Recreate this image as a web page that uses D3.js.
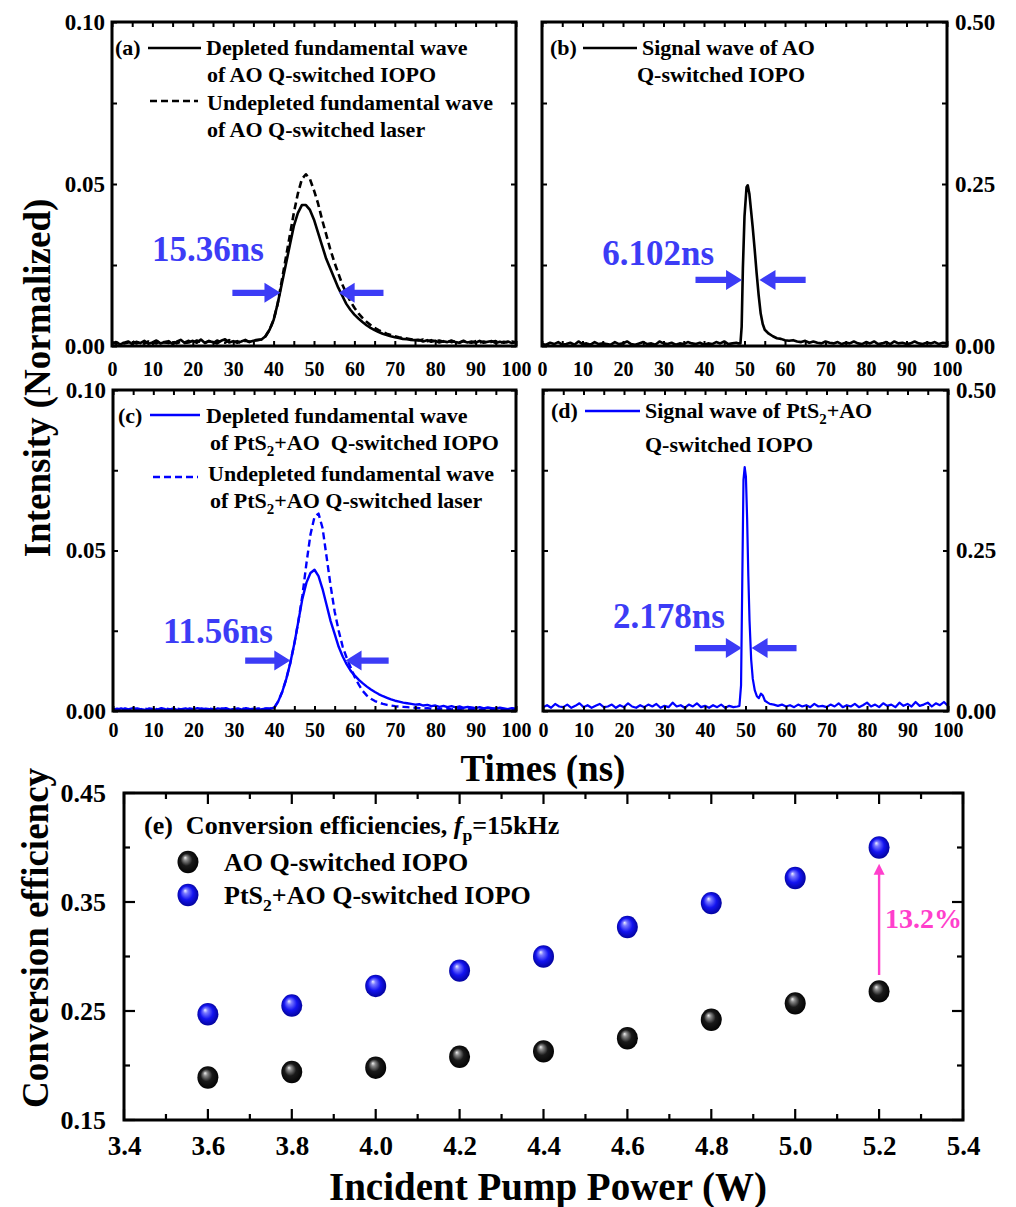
<!DOCTYPE html>
<html><head><meta charset="utf-8">
<script src="https://cdn.jsdelivr.net/npm/d3@7"></script>
<style>
body{margin:0;background:#fff}
text{font-family:"Liberation Serif","Times New Roman",serif;font-weight:bold;fill:#000}
</style>
</head><body>
<svg id="chart" width="1016" height="1207"></svg>
<script>
// ---------------- DATA ----------------
// Panel (a): AO Q-switched, [time ns, intensity]
const aDepleted = [[0,.0008],[1,.0012],[2,.0005],[3,.0010],[4,.0014],[5,.0006],[6,.0013],[7,.0009],[8,.0016],[9,.0007],[10,.0011],[11,.0017],[12,.0008],[13,.0012],[14,.0015],[15,.0006],[16,.0013],[17,.0019],[18,.0009],[19,.0011],[20,.0016],[21,.0010],[22,.0020],[23,.0009],[24,.0015],[25,.0012],[26,.0008],[27,.0016],[28,.0021],[29,.0011],[30,.0015],[31,.0010],[32,.0014],[33,.0019],[34,.0012],[35,.0016],[36,.0018],[37,.002],[38,.003],[39,.005],[40,.008],[41,.013],[42,.019],[43,.025],[44,.031],[45,.037],[46,.041],[47,.0435],[48,.0435],[49,.042],[50,.039],[51,.035],[52,.031],[53,.027],[54,.024],[55,.021],[56,.018],[57,.0155],[58,.013],[59,.0112],[60,.0097],[61,.0085],[62,.0074],[63,.0064],[64,.0056],[65,.0049],[66,.0043],[67,.0038],[68,.0034],[69,.0030],[70,.0027],[71,.0025],[72,.0022],[73,.0021],[74,.0019],[75,.0018],[76,.0019],[77,.0014],[78,.0018],[79,.0013],[80,.0016],[81,.0011],[82,.0015],[83,.0012],[84,.0017],[85,.0012],[86,.0010],[87,.0015],[88,.0011],[89,.0014],[90,.0010],[91,.0016],[92,.0010],[93,.0013],[94,.0015],[95,.0009],[96,.0013],[97,.0010],[98,.0014],[99,.0009],[100,.0012]];
const aUndepleted = [[0,.0010],[1,.0007],[2,.0013],[3,.0008],[4,.0011],[5,.0015],[6,.0008],[7,.0012],[8,.0007],[9,.0014],[10,.0010],[11,.0008],[12,.0015],[13,.0011],[14,.0009],[15,.0014],[16,.0008],[17,.0013],[18,.0011],[19,.0016],[20,.0010],[21,.0017],[22,.0012],[23,.0010],[24,.0016],[25,.0009],[26,.0017],[27,.0012],[28,.0010],[29,.0018],[30,.0012],[31,.0015],[32,.0010],[33,.0016],[34,.0013],[35,.0017],[36,.0019],[37,.002],[38,.003],[39,.005],[40,.008],[41,.013],[42,.020],[43,.027],[44,.034],[45,.041],[46,.047],[47,.0515],[48,.053],[49,.0515],[50,.048],[51,.044],[52,.039],[53,.0345],[54,.030],[55,.026],[56,.0225],[57,.019],[58,.0163],[59,.0138],[60,.0118],[61,.0101],[62,.0087],[63,.0075],[64,.0065],[65,.0056],[66,.0049],[67,.0043],[68,.0038],[69,.0034],[70,.0030],[71,.0027],[72,.0025],[73,.0023],[74,.0021],[75,.0020],[76,.0017],[77,.0020],[78,.0015],[79,.0018],[80,.0014],[81,.0017],[82,.0013],[83,.0016],[84,.0012],[85,.0015],[86,.0011],[87,.0016],[88,.0012],[89,.0010],[90,.0015],[91,.0011],[92,.0014],[93,.0010],[94,.0013],[95,.0015],[96,.0010],[97,.0013],[98,.0011],[99,.0014],[100,.0011]];
// Panel (b): signal wave, AO
const bSignal = [[0,.003],[1,.002],[2,.005],[3,.003],[4,.006],[5,.002],[6,.003],[7,.005],[8,.002],[9,.007],[10,.003],[11,.004],[12,.002],[13,.006],[14,.003],[15,.004],[16,.003],[17,.002],[18,.006],[19,.003],[20,.004],[21,.007],[22,.003],[23,.002],[24,.004],[25,.006],[26,.003],[27,.004],[28,.002],[29,.007],[30,.004],[31,.003],[32,.005],[33,.002],[34,.004],[35,.003],[36,.006],[37,.004],[38,.003],[39,.005],[40,.002],[41,.004],[42,.003],[43,.006],[44,.004],[45,.007],[46,.003],[47,.004],[48,.005],[48.5,.004],[49,.004],[49.3,.03],[49.6,.12],[50,.20],[50.5,.245],[50.8,.248],[51.2,.235],[51.6,.21],[52,.185],[52.5,.15],[53,.112],[53.5,.078],[54,.05],[54.5,.034],[55,.025],[56,.019],[57,.015],[58,.012],[59,.011],[60,.009],[61,.008],[62,.009],[63,.007],[64,.006],[65,.008],[66,.005],[67,.007],[68,.005],[69,.004],[70,.007],[71,.005],[72,.004],[73,.006],[74,.003],[75,.005],[76,.004],[77,.007],[78,.004],[79,.003],[80,.006],[81,.004],[82,.007],[83,.003],[84,.004],[85,.006],[86,.003],[87,.007],[88,.004],[89,.005],[90,.003],[91,.004],[92,.007],[93,.004],[94,.003],[95,.005],[96,.004],[97,.006],[98,.003],[99,.005],[100,.004]];
// Panel (c): PtS2 + AO Q-switched
const cDepleted = [[0,.0006],[1,.0003],[2,.0008],[3,.0004],[4,.0006],[5,.0009],[6,.0004],[7,.0006],[8,.0003],[9,.0008],[10,.0006],[11,.0004],[12,.0009],[13,.0006],[14,.0004],[15,.0008],[16,.0003],[17,.0006],[18,.0008],[19,.0004],[20,.0006],[21,.0009],[22,.0004],[23,.0007],[24,.0006],[25,.0003],[26,.0008],[27,.0006],[28,.0009],[29,.0004],[30,.0006],[31,.0008],[32,.0004],[33,.0009],[34,.0006],[35,.0007],[36,.0004],[37,.0006],[38,.0008],[39,.0007],[40,.001],[41,.003],[42,.006],[43,.010],[44,.015],[45,.021],[46,.028],[47,.035],[48,.040],[49,.043],[50,.044],[51,.042],[52,.038],[53,.033],[54,.028],[55,.024],[56,.020],[57,.017],[58,.0145],[59,.0125],[60,.011],[61,.0097],[62,.0086],[63,.0076],[64,.0067],[65,.0059],[66,.0052],[67,.0046],[68,.0041],[69,.0036],[70,.0032],[71,.0029],[72,.0026],[73,.0024],[74,.0022],[75,.0020],[76,.0021],[77,.0017],[78,.0019],[79,.0015],[80,.0017],[81,.0013],[82,.0016],[83,.0012],[84,.0015],[85,.0011],[86,.0014],[87,.0010],[88,.0013],[89,.0011],[90,.0009],[91,.0012],[92,.0008],[93,.0011],[94,.0009],[95,.0007],[96,.0010],[97,.0008],[98,.0006],[99,.0009],[100,.0007]];
const cUndepleted = [[0,.0004],[1,.0007],[2,.0005],[3,.0008],[4,.0004],[5,.0006],[6,.0008],[7,.0005],[8,.0007],[9,.0004],[10,.0008],[11,.0006],[12,.0005],[13,.0008],[14,.0006],[15,.0004],[16,.0007],[17,.0005],[18,.0004],[19,.0008],[20,.0006],[21,.0005],[22,.0008],[23,.0005],[24,.0007],[25,.0006],[26,.0004],[27,.0008],[28,.0006],[29,.0007],[30,.0004],[31,.0006],[32,.0008],[33,.0005],[34,.0007],[35,.0005],[36,.0008],[37,.0006],[38,.0007],[39,.0008],[40,.001],[41,.003],[42,.006],[43,.010],[44,.015],[45,.021],[46,.028],[47,.036],[48,.046],[49,.055],[50,.0605],[51,.0615],[52,.057],[53,.048],[54,.039],[55,.031],[56,.025],[57,.020],[58,.0165],[59,.0135],[60,.0105],[61,.0082],[62,.0062],[63,.0048],[64,.0038],[65,.0031],[66,.0026],[67,.0022],[68,.0019],[69,.0017],[70,.0015],[71,.0014],[72,.0013],[73,.0012],[74,.0011],[75,.0010],[76,.0009],[77,.0008],[78,.0009],[79,.0007],[80,.0008],[81,.0006],[82,.0008],[83,.0007],[84,.0005],[85,.0007],[86,.0006],[87,.0008],[88,.0005],[89,.0007],[90,.0006],[91,.0004],[92,.0007],[93,.0005],[94,.0006],[95,.0008],[96,.0005],[97,.0006],[98,.0004],[99,.0007],[100,.0005]];
// Panel (d): signal wave, PtS2 + AO
const dSignal = [[0,.006],[1,.009],[2,.005],[3,.011],[4,.007],[5,.006],[6,.010],[7,.005],[8,.008],[9,.012],[10,.006],[11,.009],[12,.005],[13,.008],[14,.011],[15,.006],[16,.007],[17,.010],[18,.005],[19,.009],[20,.006],[21,.012],[22,.007],[23,.005],[24,.009],[25,.006],[26,.010],[27,.007],[28,.011],[29,.005],[30,.008],[31,.006],[32,.013],[33,.007],[34,.009],[35,.005],[36,.010],[37,.007],[38,.012],[39,.006],[40,.008],[41,.005],[42,.009],[43,.006],[44,.010],[45,.005],[46,.008],[47,.006],[48,.007],[48.5,.008],[48.9,.04],[49.2,.2],[49.5,.36],[49.8,.38],[50.1,.365],[50.4,.30],[50.7,.21],[51,.14],[51.4,.08],[51.8,.05],[52.3,.032],[52.8,.023],[53.3,.02],[53.8,.027],[54.3,.024],[54.8,.016],[55.5,.013],[56,.011],[57,.010],[58,.008],[59,.010],[60,.007],[61,.009],[62,.006],[63,.010],[64,.007],[65,.009],[66,.006],[67,.011],[68,.007],[69,.008],[70,.006],[71,.010],[72,.007],[73,.012],[74,.006],[75,.009],[76,.007],[77,.011],[78,.006],[79,.009],[80,.013],[81,.007],[82,.010],[83,.006],[84,.012],[85,.008],[86,.010],[87,.006],[88,.013],[89,.008],[90,.011],[91,.007],[92,.014],[93,.008],[94,.010],[95,.013],[96,.007],[97,.012],[98,.009],[99,.014],[100,.008]];

// Panel (e): conversion efficiency
const pumpPower = [3.6, 3.8, 4.0, 4.2, 4.4, 4.6, 4.8, 5.0, 5.2];
const effAO     = [0.189, 0.194, 0.198, 0.208, 0.213, 0.225, 0.242, 0.257, 0.268];
const effPtS2AO = [0.247, 0.255, 0.273, 0.287, 0.300, 0.327, 0.349, 0.372, 0.400];

// tick labels
const timeTicks = [0,10,20,30,40,50,60,70,80,90,100];
const fundTickLabels = [0.00, 0.05, 0.10];
const sigTickLabels = [0.00, 0.25, 0.50];
const powerTicks = [3.4,3.6,3.8,4.0,4.2,4.4,4.6,4.8,5.0,5.2,5.4];
const effTicks = [0.15,0.25,0.35,0.45];

// annotations (data space): FWHM labels and arrow positions
const fwhmLabels = ["15.36ns", "6.102ns", "11.56ns", "2.178ns"];
const fwhmLabelPos = [[9.9,0.0262],[14.9,0.125],[12.4,0.0212],[17.3,0.129]];
const fwhmArrowY = [0.0164, 0.102, 0.0157, 0.098];
const fwhmArrowLeft = [[29.8,41.7],[37.9,49.4],[32.8,44.0],[37.5,49.1]];   // [tail, tip]
const fwhmArrowRight = [[67.2,56.1],[65.1,53.7],[68.4,57.7],[62.6,51.5]];  // [tail, tip]
const improvement = {label: "13.2%", x: 5.2, from: 0.283, to: 0.385};

// ---------------- DRAW ----------------
const svg = d3.select("#chart");
const BLUE = "#0000ff", ANNO = "#3c3cf6", MAG = "#ff3fcc";
const defs = svg.append("defs");

function gradient(id, stops){
  const g = defs.append("radialGradient").attr("id", id)
    .attr("cx","50%").attr("cy","50%").attr("r","55%").attr("fx","36%").attr("fy","30%");
  stops.forEach(s => g.append("stop").attr("offset", s[0]).attr("stop-color", s[1]));
}
gradient("ballBlack", [["0%","#f2f2f2"],["18%","#8a8a8a"],["50%","#1a1a1a"],["100%","#000"]]);
gradient("ballBlue", [["0%","#eef0ff"],["20%","#7a7aff"],["55%","#1414f0"],["100%","#000090"]]);

function styleAxis(g, fs){
  g.select(".domain").remove();
  g.selectAll(".tick line").attr("stroke","#000").attr("stroke-width",2);
  g.selectAll(".tick text").attr("fill","#000")
    .style("font-family",'"Liberation Serif","Times New Roman",serif')
    .style("font-weight","bold").style("font-size", fs+"px");
}

function arrow(g, xt, xp, y, color){
  const d = Math.sign(xp - xt), hl = 16, hh = 10, sh = 3.2;
  const pts = [[xt,y-sh],[xp-d*hl,y-sh],[xp-d*hl,y-hh],[xp,y],[xp-d*hl,y+hh],[xp-d*hl,y+sh],[xt,y+sh]];
  g.append("path").attr("d", "M" + pts.map(p=>p.join(",")).join("L") + "Z").attr("fill", color);
}

function richText(g, x, y, fs, parts, color){
  const t = g.append("text").attr("x", x).attr("y", y).style("font-size", fs+"px")
    .style("white-space","pre").attr("fill", color || "#000");
  parts.forEach(p => {
    const s = t.append("tspan").text(p.t);
    if (p.sub){ s.attr("dy", fs*0.28).style("font-size", (fs*0.68)+"px"); }
    if (p.after){ s.attr("dy", -fs*0.28); }
    if (p.italic) s.style("font-style","italic");
  });
  return t;
}

const panels = [
  {name:"a", x0:112, x1:516, y0:22, y1:346, ymax:0.1, yMinor:[0,0.025,0.05,0.075,0.1], labels:fundTickLabels, side:"left", xPad:16,
   series:[{data:aUndepleted, color:"#000", dash:"7,4"},{data:aDepleted, color:"#000"}], sw:2.6},
  {name:"b", x0:542, x1:947, y0:22, y1:346, ymax:0.5, yMinor:[0,0.125,0.25,0.375,0.5], labels:sigTickLabels, side:"right", xPad:16,
   series:[{data:bSignal, color:"#000"}], sw:2.6},
  {name:"c", x0:113, x1:516, y0:390, y1:711, ymax:0.1, yMinor:[0,0.025,0.05,0.075,0.1], labels:fundTickLabels, side:"left", xPad:12,
   series:[{data:cUndepleted, color:BLUE, dash:"7,4"},{data:cDepleted, color:BLUE}], sw:2.4},
  {name:"d", x0:543, x1:948, y0:390, y1:711, ymax:0.5, yMinor:[0,0.125,0.25,0.375,0.5], labels:sigTickLabels, side:"right", xPad:12,
   series:[{data:dSignal, color:BLUE}], sw:2.2}
];

panels.forEach((p, i) => {
  const x = d3.scaleLinear().domain([0,100]).range([p.x0, p.x1]);
  const y = d3.scaleLinear().domain([0,p.ymax]).range([p.y1, p.y0]);
  const g = svg.append("g");
  defs.append("clipPath").attr("id","clip"+p.name).append("rect")
    .attr("x",p.x0).attr("y",p.y0).attr("width",p.x1-p.x0).attr("height",p.y1-p.y0);

  const line = d3.line().x(d => x(d[0])).y(d => y(d[1]));
  p.series.forEach(s => {
    g.append("path").attr("d", line(s.data)).attr("fill","none").attr("stroke", s.color)
      .attr("stroke-width", p.sw).attr("stroke-linejoin","round")
      .attr("stroke-dasharray", s.dash || null).attr("clip-path","url(#clip"+p.name+")");
  });

  const xt = d3.range(0,101,5);
  const ax = g.append("g").attr("transform",`translate(0,${p.y1})`)
    .call(d3.axisBottom(x).tickValues(xt).tickSize(-5).tickPadding(p.xPad)
      .tickFormat(d => timeTicks.includes(d) ? d : ""));
  styleAxis(ax, 20);
  const at = g.append("g").attr("transform",`translate(0,${p.y0})`)
    .call(d3.axisTop(x).tickValues(xt).tickSize(-5).tickFormat(""));
  styleAxis(at, 20);
  const fmt = d => p.labels.some(v => Math.abs(v-d) < 1e-9) ? d3.format(".2f")(d) : "";
  const al = g.append("g").attr("transform",`translate(${p.x0},0)`)
    .call(d3.axisLeft(y).tickValues(p.yMinor).tickSize(-5).tickPadding(7)
      .tickFormat(p.side === "left" ? fmt : ""));
  styleAxis(al, 23);
  const ar = g.append("g").attr("transform",`translate(${p.x1},0)`)
    .call(d3.axisRight(y).tickValues(p.yMinor).tickSize(-5).tickPadding(8)
      .tickFormat(p.side === "right" ? fmt : ""));
  styleAxis(ar, 23);

  g.append("rect").attr("x",p.x0).attr("y",p.y0).attr("width",p.x1-p.x0).attr("height",p.y1-p.y0)
    .attr("fill","none").attr("stroke","#000").attr("stroke-width",3);

  // FWHM annotation
  const ay = y(fwhmArrowY[i]);
  arrow(g, x(fwhmArrowLeft[i][0]), x(fwhmArrowLeft[i][1]), ay, ANNO);
  arrow(g, x(fwhmArrowRight[i][0]), x(fwhmArrowRight[i][1]), ay, ANNO);
  g.append("text").attr("x", x(fwhmLabelPos[i][0])).attr("y", y(fwhmLabelPos[i][1]))
    .attr("fill", ANNO).style("fill",ANNO).style("font-size","35px").text(fwhmLabels[i]);
});

// Legends of panels
function legLine(x1, x2, yy, color, dash){
  svg.append("line").attr("x1",x1).attr("x2",x2).attr("y1",yy).attr("y2",yy)
    .attr("stroke",color).attr("stroke-width",2.6).attr("stroke-dasharray",dash||null);
}
const LF = 22;
// (a)
richText(svg, 115, 55, LF, [{t:"(a)"}]);
legLine(148, 201, 48, "#000");
richText(svg, 206, 55, LF, [{t:"Depleted fundamental wave"}]);
richText(svg, 207, 82, LF, [{t:"of AO Q-switched IOPO"}]);
legLine(150, 198, 101, "#000", "7,4");
richText(svg, 207, 110, LF, [{t:"Undepleted fundamental wave"}]);
richText(svg, 207, 137, LF, [{t:"of AO Q-switched laser"}]);
// (b)
richText(svg, 550, 55, LF, [{t:"(b)"}]);
legLine(583, 637, 48, "#000");
richText(svg, 642, 55, LF, [{t:"Signal wave of AO"}]);
richText(svg, 637, 82, LF, [{t:"Q-switched IOPO"}]);
// (c)
richText(svg, 118, 423, LF, [{t:"(c)"}]);
legLine(150, 200, 415, BLUE);
richText(svg, 206, 423, LF, [{t:"Depleted fundamental wave"}]);
richText(svg, 210, 450, LF, [{t:"of PtS"},{t:"2",sub:true},{t:"+AO  Q-switched IOPO",after:true}]);
legLine(153, 198, 477, BLUE, "7,4");
richText(svg, 208, 481, LF, [{t:"Undepleted fundamental wave"}]);
richText(svg, 210, 508, LF, [{t:"of PtS"},{t:"2",sub:true},{t:"+AO Q-switched laser",after:true}]);
// (d)
richText(svg, 551, 418, LF, [{t:"(d)"}]);
legLine(585, 640, 411, BLUE);
richText(svg, 645, 418, LF, [{t:"Signal wave of PtS"},{t:"2",sub:true},{t:"+AO",after:true}]);
richText(svg, 645, 452, LF, [{t:"Q-switched IOPO"}]);

// Shared axis titles
svg.append("text").attr("x", 543).attr("y", 781).attr("text-anchor","middle")
  .style("font-size","37px").text("Times (ns)");
svg.append("text").attr("transform","translate(50,378) rotate(-90)").attr("text-anchor","middle")
  .style("font-size","37px").text("Intensity (Normalized)");

// ---------------- Panel (e) ----------------
const E = {x0:124, x1:963, y0:793, y1:1120};
const ex = d3.scaleLinear().domain([3.4,5.4]).range([E.x0,E.x1]);
const ey = d3.scaleLinear().domain([0.15,0.45]).range([E.y1,E.y0]);
const ge = svg.append("g");

const isMajorX = d => powerTicks.some(v => Math.abs(v-d) < 1e-6);
const isMajorY = d => effTicks.some(v => Math.abs(v-d) < 1e-6);
const xAll = d3.range(34,55).map(v => v/10);
const yAll = d3.range(15,46,5).map(v => v/100);

xAll.forEach(v => {
  const L = isMajorX(v) ? 11 : 6;
  ge.append("line").attr("x1",ex(v)).attr("x2",ex(v)).attr("y1",E.y1).attr("y2",E.y1-L).attr("stroke","#000").attr("stroke-width",2.2);
  ge.append("line").attr("x1",ex(v)).attr("x2",ex(v)).attr("y1",E.y0).attr("y2",E.y0+L).attr("stroke","#000").attr("stroke-width",2.2);
});
yAll.forEach(v => {
  const L = isMajorY(v) ? 11 : 6;
  ge.append("line").attr("x1",E.x0).attr("x2",E.x0+L).attr("y1",ey(v)).attr("y2",ey(v)).attr("stroke","#000").attr("stroke-width",2.2);
  ge.append("line").attr("x1",E.x1).attr("x2",E.x1-L).attr("y1",ey(v)).attr("y2",ey(v)).attr("stroke","#000").attr("stroke-width",2.2);
});
const axE = ge.append("g").attr("transform",`translate(0,${E.y1})`)
  .call(d3.axisBottom(ex).tickValues(powerTicks).tickSize(0).tickPadding(16).tickFormat(d3.format(".1f")));
styleAxis(axE, 27);
const ayE = ge.append("g").attr("transform",`translate(${E.x0},0)`)
  .call(d3.axisLeft(ey).tickValues(effTicks).tickSize(0).tickPadding(18).tickFormat(d3.format(".2f")));
styleAxis(ayE, 26);
ge.append("rect").attr("x",E.x0).attr("y",E.y0).attr("width",E.x1-E.x0).attr("height",E.y1-E.y0)
  .attr("fill","none").attr("stroke","#000").attr("stroke-width",3);

ge.selectAll("ellipse.ao").data(pumpPower).join("ellipse").attr("class","ao")
  .attr("cx", d => ex(d)).attr("cy", (d,i) => ey(effAO[i])).attr("rx", 10.5).attr("ry", 11.2).attr("fill","url(#ballBlack)");
ge.selectAll("ellipse.pt").data(pumpPower).join("ellipse").attr("class","pt")
  .attr("cx", d => ex(d)).attr("cy", (d,i) => ey(effPtS2AO[i])).attr("rx", 10.5).attr("ry", 11.2).attr("fill","url(#ballBlue)");

// improvement arrow
const ix = ex(improvement.x), iy1 = ey(improvement.from), iy2 = ey(improvement.to);
ge.append("line").attr("x1",ix).attr("x2",ix).attr("y1",iy1).attr("y2",iy2+9).attr("stroke",MAG).attr("stroke-width",2.4);
ge.append("path").attr("d",`M${ix-5.5},${iy2+11}L${ix},${iy2}L${ix+5.5},${iy2+11}Z`).attr("fill",MAG);
ge.append("text").attr("x", ix+6).attr("y", ey((improvement.from+improvement.to)/2)+9)
  .style("fill",MAG).style("font-size","28px").text(improvement.label);

// legend (e)
richText(ge, 144, 834, 26, [{t:"(e)  Conversion efficiencies, "},{t:"f",italic:true},{t:"p",sub:true},{t:"=15kHz",after:true}]);
ge.append("ellipse").attr("cx",188).attr("cy",862).attr("rx",10.5).attr("ry",11.2).attr("fill","url(#ballBlack)");
ge.append("ellipse").attr("cx",188).attr("cy",895).attr("rx",10.5).attr("ry",11.2).attr("fill","url(#ballBlue)");
richText(ge, 224, 871, 26, [{t:"AO Q-switched IOPO"}]);
richText(ge, 224, 904, 26, [{t:"PtS"},{t:"2",sub:true},{t:"+AO Q-switched IOPO",after:true}]);

// titles (e)
svg.append("text").attr("x", 548).attr("y", 1200).attr("text-anchor","middle")
  .style("font-size","39px").text("Incident Pump Power (W)");
svg.append("text").attr("transform","translate(48,938) rotate(-90)").attr("text-anchor","middle")
  .style("font-size","37px").text("Conversion efficiency");
</script>
</body></html>
